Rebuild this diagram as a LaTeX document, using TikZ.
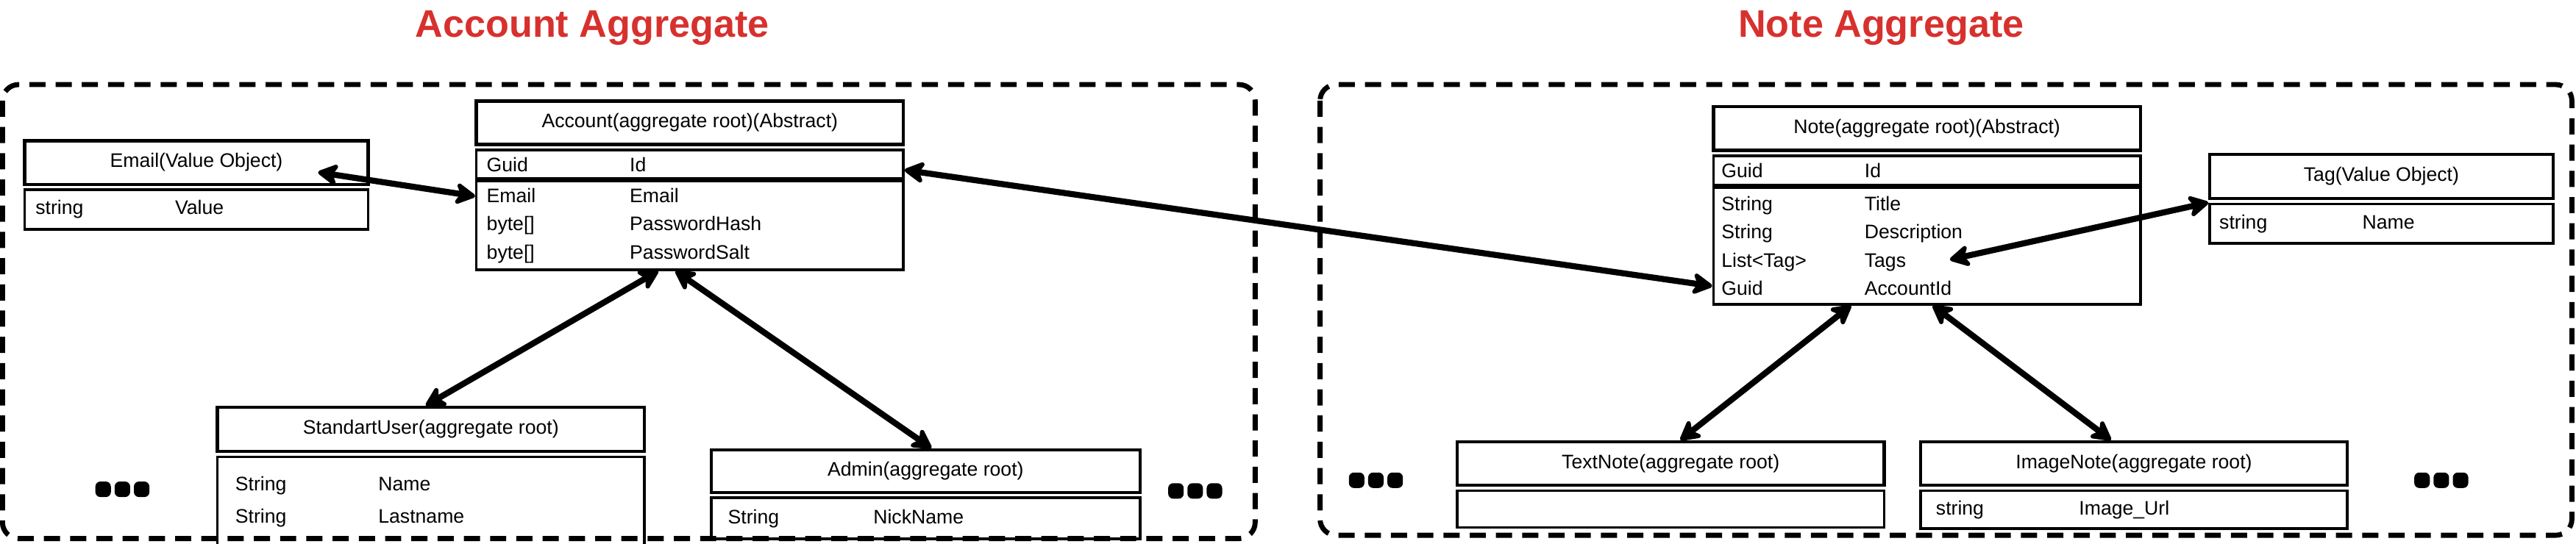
\documentclass[tikz,border=0pt]{standalone}
\usepackage{fontspec}
\setmainfont{Liberation Sans}
\usetikzlibrary{arrows.meta, positioning}
\definecolor{agg_red}{HTML}{D7312E}
\newcommand{\fld}[3][2.49cm]{\makebox[#1][l]{#2}#3}

\begin{document}
\begin{tikzpicture}[
                x=0.0286cm, y=-0.0286cm,
                title/.style={text=agg_red, font=\fontsize{19}{23}\selectfont\bfseries},
                group/.style={draw, line width=2.5pt, dash pattern=on 8pt off 5pt, rounded corners=8pt},
                head/.style={rectangle, draw, line width=1.6pt, anchor=north west, inner sep=0pt, minimum height=0.76cm, font=\fontsize{9.7}{11}\selectfont},
                cls/.style={head, minimum width=7.43cm},
                vo/.style={head, minimum width=5.98cm},
                body/.style={rectangle, draw, line width=1.3pt, inner ysep=0pt, align=left, font=\fontsize{9.7}{14}\selectfont},
                link/.style={line width=3pt, <->, >={Stealth[length=12pt, width=13pt, inset=3.5pt, round]}}
            ]
                \useasboundingbox (0,0) rectangle (1568,331);

                % Account aggregate
                \node[title] (accounttitle) at (360.5,17) {Account Aggregate};
                \draw[group] (1.5,51.5) rectangle (764,328);

                \node[vo] (email) at (14,84.7) {Email(Value Object)};
                \node[body, below=1.2pt of email, text width=5.60cm, inner xsep=0.19cm, minimum height=0.69cm] (emailfields) {\fld[2.43cm]{string}{Value}};

                \node[cls] (account) at (289,60.5) {Account(aggregate root)(Abstract)};
                \node[body, below=1.2pt of account, text width=7.07cm, inner xsep=0.18cm, minimum height=0.5cm] (accountid) {\fld{Guid}{Id}};
                \node[body, below=0pt of accountid, text width=7.07cm, inner xsep=0.18cm, minimum height=1.54cm] (accountfields) {\fld{Email}{Email}\\\fld{byte[]}{PasswordHash}\\\fld{byte[]}{PasswordSalt}};

                \node[cls, minimum height=0.77cm] (standart) at (131.4,247) {StandartUser(aggregate root)};
                \node[body, below=1.2pt of standart, text width=6.81cm, inner xsep=0.31cm, minimum height=1.57cm, font=\fontsize{9.7}{16.2}\selectfont] (standartfields) {\fld{String}{Name}\\\fld{String}{Lastname}};

                \node[cls, minimum width=7.46cm, minimum height=0.74cm] (admin) at (432,273) {Admin(aggregate root)};
                \node[body, below=1.2pt of admin, text width=6.88cm, inner xsep=0.29cm, minimum height=0.72cm] (adminfields) {\fld[2.53cm]{String}{NickName}};

                % Note aggregate
                \node[title] (notetitle) at (1145,17) {Note Aggregate};
                \draw[group] (803.5,51.5) rectangle (1565.5,326);

                \node[cls] (note) at (1042,64) {Note(aggregate root)(Abstract)};
                \node[body, below=1.2pt of note, text width=7.15cm, inner xsep=0.14cm, minimum height=0.51cm] (noteid) {\fld{Guid}{Id}};
                \node[body, below=0pt of noteid, text width=7.15cm, inner xsep=0.14cm, minimum height=2.03cm] (notefields) {\fld{String}{Title}\\\fld{String}{Description}\\\fld{List<Tag>}{Tags}\\\fld{Guid}{AccountId}};

                \node[vo, minimum height=0.77cm] (tag) at (1344,93) {Tag(Value Object)};
                \node[body, below=1.2pt of tag, text width=5.64cm, inner xsep=0.17cm, minimum height=0.69cm] (tagfields) {\fld{string}{Name}};

                \node[cls] (textnote) at (886,268) {TextNote(aggregate root)};
                \node[body, below=1.2pt of textnote, text width=7.07cm, inner xsep=0.18cm, minimum height=0.64cm] (textnotefields) {};

                \node[cls] (imagenote) at (1168,268) {ImageNote(aggregate root)};
                \node[body, below=1.2pt of imagenote, text width=6.89cm, inner xsep=0.27cm, minimum height=0.66cm] (imagenotefields) {\fld{string}{Image\_Url}};

                % Arrows
                \draw[link] ([xshift=-0.9cm, yshift=-0.17cm]email.east) -- ([yshift=0.51cm]accountfields.west);
                \draw[link] ([yshift=-0.1cm]accountid.east) -- ([yshift=-0.7cm]notefields.west);
                \draw[link] ([xshift=-0.55cm]accountfields.south) -- ([xshift=-0.09cm]standart.north);
                \draw[link] ([xshift=-0.25cm]accountfields.south) -- ([xshift=0.1cm]admin.north);
                \draw[link] ([xshift=0.4cm, yshift=-0.24cm]notefields.center) -- (tagfields.north west);
                \draw[link] ([xshift=-1.32cm]notefields.south) -- ([xshift=0.17cm]textnote.north);
                \draw[link] ([xshift=0.1cm]notefields.south) -- ([xshift=-0.4cm]imagenote.north);

                % More subtypes
                \foreach \cx/\cy in {74.5/298, 727.5/299, 837.5/292.5, 1486/292.5}
                    \foreach \k in {-1,0,1}
                        \fill[rounded corners=2.5pt] ([shift={(\k*0.335cm-0.135cm,-0.135cm)}]\cx,\cy) rectangle ++(0.27cm,0.27cm);
            \end{tikzpicture}
\end{document}
